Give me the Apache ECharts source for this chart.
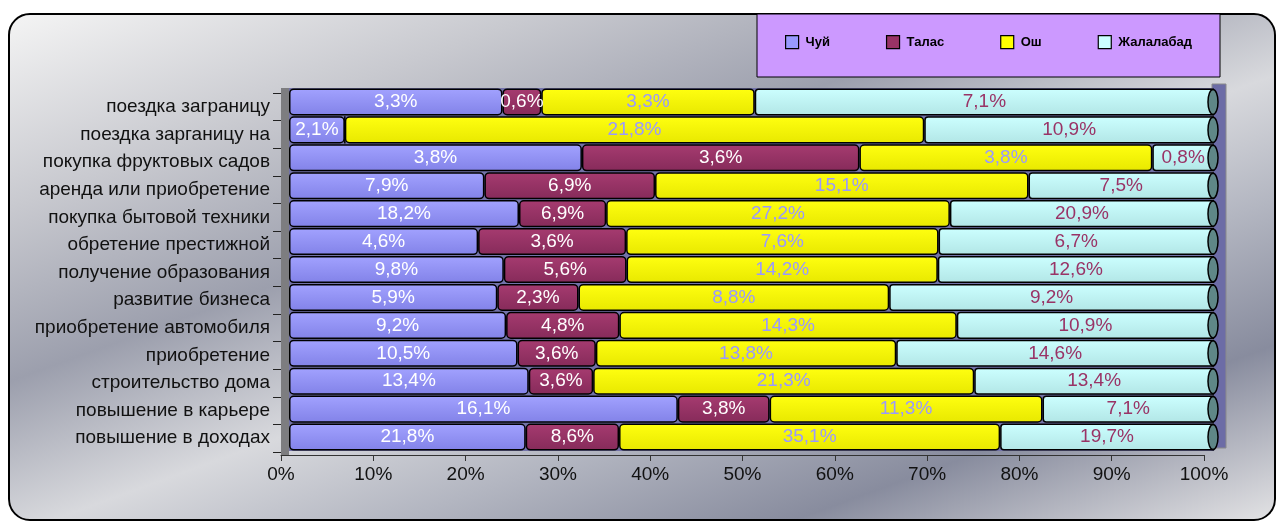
<!DOCTYPE html>
<html>
<head>
<meta charset="utf-8">
<script src="https://cdn.jsdelivr.net/npm/echarts@6/dist/echarts.min.js"></script>
<style>
	html, body { margin: 0; padding: 0; background: #fff; overflow: hidden; }
	#frame {
		position: absolute; left: 8px; top: 13px; width: 1264px; height: 504px;
		border: 2px solid #000; border-radius: 22px;
		background: linear-gradient(160deg, #f4f4f4 0%, #c8c9cf 20%, #9c9fad 38%, #d8d9dd 54%, #b3b6c1 67%, #888c9e 82%, #e2e2e4 100%);
	}
	#main { position: absolute; left: 0; top: 0; width: 1276px; height: 527px; }
</style>
</head>
<body>
<div id="frame"></div>
<div id="main"></div>
<script>
var categories = [
	'поездка заграницу',
	'поездка зарганицу на',
	'покупка фруктовых садов',
	'аренда или приобретение',
	'покупка бытовой техники',
	'обретение престижной',
	'получение образования',
	'развитие бизнеса',
	'приобретение автомобиля',
	'приобретение',
	'строительство дома',
	'повышение в карьере',
	'повышение в доходах'
];
// значения по регионам (подписи на столбцах), сверху вниз
var chuy      = [3.3, 2.1, 3.8, 7.9, 18.2, 4.6, 9.8, 5.9, 9.2, 10.5, 13.4, 16.1, 21.8];
var talas     = [0.6, 0,   3.6, 6.9, 6.9,  3.6, 5.6, 2.3, 4.8, 3.6,  3.6,  3.8,  8.6];
var osh       = [3.3, 21.8, 3.8, 15.1, 27.2, 7.6, 14.2, 8.8, 14.3, 13.8, 21.3, 11.3, 35.1];
var jalalabad = [7.1, 10.9, 0.8, 7.5, 20.9, 6.7, 12.6, 9.2, 10.9, 14.6, 13.4, 7.1, 19.7];
var xTicks = [0, 10, 20, 30, 40, 50, 60, 70, 80, 90, 100];

var regions = [
	{name: 'Чуй', raw: chuy, top: '#a2a2ff', bottom: '#8282e8', flat: '#9999ff', label: '#ffffff'},
	{name: 'Талас', raw: talas, top: '#a63b70', bottom: '#862b5a', flat: '#993366', label: '#ffffff'},
	{name: 'Ош', raw: osh, top: '#ffff10', bottom: '#e8e800', flat: '#ffff00', label: '#9999ff'},
	{name: 'Жалалабад', raw: jalalabad, top: '#ccffff', bottom: '#b2e6e6', flat: '#ccffff', label: '#993366'}
];

var totals = categories.map(function (c, i) {
	return chuy[i] + talas[i] + osh[i] + jalalabad[i];
});

var series = regions.map(function (r, idx) {
	return {
		name: r.name,
		type: 'bar',
		stack: 'all',
		xAxisIndex: 0,
		yAxisIndex: 0,
		barCategoryGap: '3%',
		data: r.raw.map(function (v, i) { return v / totals[i] * 100; }),
		itemStyle: {
			color: new echarts.graphic.LinearGradient(0, 0, 0, 1, [
				{offset: 0, color: r.top}, {offset: 1, color: r.bottom}
			]),
			borderColor: '#000',
			borderWidth: 1.5,
			borderRadius: idx == 3 ? [3, 0, 0, 3] : 4
		},
		label: {
			show: true,
			position: 'inside',
			color: r.label,
			fontFamily: 'Liberation Sans',
			fontSize: 19,
			formatter: function (p) {
				var v = r.raw[p.dataIndex];
				return v ? v.toFixed(1).replace('.', ',') + '%' : '';
			}
		}
	};
});

// торцы цилиндров на 100%
series.push({
	type: 'custom',
	xAxisIndex: 0,
	yAxisIndex: 0,
	silent: true,
	z: 5,
	data: categories.map(function (c, i) { return [100, i]; }),
	renderItem: function (params, api) {
		var p = api.coord([api.value(0), api.value(1)]);
		var h = api.size([0, 1])[1] * 0.97;
		return {
			type: 'ellipse',
			shape: {cx: p[0] - 1, cy: p[1], rx: 5, ry: h / 2 - 1},
			style: {fill: '#5f8787', stroke: '#000', lineWidth: 1.5}
		};
	}
});

var chart = echarts.init(document.getElementById('main'));
chart.setOption({
	animation: false,
	graphic: [{
		type: 'rect',
		z: 0,
		shape: {x: 757, y: 14, width: 463, height: 63},
		style: {fill: '#cc99ff', stroke: '#000', lineWidth: 1}
	}, {
		// левая стенка
		type: 'rect',
		z: 0,
		shape: {x: 281, y: 88, width: 8, height: 367},
		style: {fill: '#7d7d80'}
	}, {
		// задняя стенка
		type: 'rect',
		z: 0,
		shape: {x: 1212, y: 84, width: 14, height: 364},
		style: {fill: '#6c6ca6', stroke: '#8a8a8a', lineWidth: 1}
	}],
	legend: {
		left: 785,
		top: 35,
		orient: 'horizontal',
		padding: 0,
		itemGap: 56,
		itemWidth: 13,
		itemHeight: 13,
		icon: 'rect',
		textStyle: {fontFamily: 'Liberation Sans', fontSize: 13, fontWeight: 'bold', color: '#000', padding: [2, 0, 0, 2]},
		data: regions.map(function (r) {
			return {name: r.name, itemStyle: {color: r.flat, borderColor: '#000', borderWidth: 1.2}};
		})
	},
	grid: [
		{left: 289, right: 62, top: 88, bottom: 76, show: true, backgroundColor: '#7272a8', borderWidth: 0},
		{left: 281, right: 72, top: 93, bottom: 75, show: false}
	],
	xAxis: [
		{type: 'value', gridIndex: 0, min: 0, max: 100, show: false},
		{
			type: 'value', gridIndex: 1, min: 0, max: 100, interval: 10, offset: 3,
			axisLine: {show: true, lineStyle: {color: '#333', width: 1}},
			axisTick: {show: true, length: 6, lineStyle: {color: '#333'}},
			splitLine: {show: false},
			axisLabel: {
				color: '#111', fontFamily: 'Liberation Sans', fontSize: 19, margin: 10,
				formatter: function (v) { return xTicks.indexOf(v) >= 0 ? v + '%' : ''; }
			}
		}
	],
	yAxis: [
		{type: 'category', gridIndex: 0, inverse: true, data: categories, show: false},
		{
			type: 'category', gridIndex: 1, inverse: true, data: categories,
			axisLine: {show: false},
			axisTick: {show: true, length: 8, lineStyle: {color: '#222'}},
			axisLabel: {color: '#111', fontFamily: 'Liberation Sans', fontSize: 19, margin: 11}
		}
	],
	series: series
});
</script>
</body>
</html>
